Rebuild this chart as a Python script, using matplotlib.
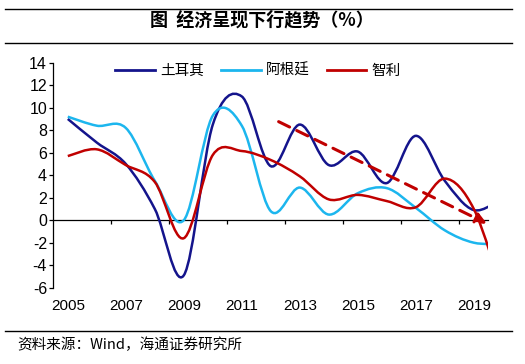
import matplotlib
matplotlib.use("Agg")
import matplotlib.pyplot as plt
from matplotlib.path import Path
from matplotlib.patches import PathPatch
from matplotlib.lines import Line2D
import numpy as np

plt.rcParams['font.family'] = ['Liberation Sans', 'Noto Sans CJK SC', 'DejaVu Sans']

# ---- data ----
years = [2005, 2006, 2007, 2008, 2009, 2010, 2011, 2012, 2013, 2014, 2015, 2016, 2017, 2018, 2019, 2020]
turkey = [9.0, 6.9, 5.0, 1.0, -4.9, 8.5, 11.0, 4.8, 8.5, 4.9, 6.1, 3.3, 7.5, 3.5, 0.9, 2.0]
argentina = [9.2, 8.4, 8.2, 3.5, 0.0, 9.3, 8.4, 0.8, 2.9, 0.5, 2.4, 2.85, 1.1, -0.9, -2.0, -2.1]
chile = [5.7, 6.3, 4.9, 3.4, -1.6, 5.8, 6.15, 5.35, 3.9, 1.85, 2.25, 1.7, 1.15, 3.7, 1.0, -6.5]
series_names = ['土耳其', '阿根廷', '智利']
series_colors = ['#14148C', '#1CB6EE', '#C00000']
label_years = [2005, 2007, 2009, 2011, 2013, 2015, 2017, 2019]
boundary_ticks = [2006.5, 2008.5, 2010.5, 2012.5, 2014.5, 2016.5, 2018.5]
y_ticks = [-6, -4, -2, 0, 2, 4, 6, 8, 10, 12, 14]
trend_start = (2012.27, 8.76)
trend_end = (2019.45, -0.3)
title = '图  经济呈现下行趋势（%）'
source = '资料来源：Wind，海通证券研究所'

W, H = 525, 364
fig = plt.figure(figsize=(W / 100, H / 100), dpi=100)
ax = fig.add_axes([53.3 / W, 76.3 / H, 435 / W, 225 / H])


def smooth_path(xs, ys):
    pts = np.column_stack([xs, ys]).astype(float)
    n = len(pts)
    verts = [pts[0]]
    codes = [Path.MOVETO]
    for i in range(n - 1):
        p0 = pts[i - 1] if i > 0 else pts[i]
        p1 = pts[i]
        p2 = pts[i + 1]
        p3 = pts[i + 2] if i + 2 < n else pts[i + 1]
        c1 = p1 + (p2 - p0) / 6.0
        c2 = p2 - (p3 - p1) / 6.0
        verts += [c1, c2, p2]
        codes += [Path.CURVE4] * 3
    return Path(verts, codes)


for vals, name, col in zip([turkey, argentina, chile], series_names, series_colors):
    patch = PathPatch(smooth_path(years, vals), facecolor='none', edgecolor=col, lw=1.8, zorder=3)
    ax.add_patch(patch)
    ax.plot([], [], color=col, lw=2.0, label=name)

ax.annotate('', xy=trend_end, xytext=trend_start,
            arrowprops=dict(arrowstyle='-|>', color='#C00000', lw=2.2,
                            linestyle=(0, (4, 2.6)), mutation_scale=16,
                            shrinkA=0, shrinkB=0), zorder=4)

ax.set_xlim(2004.5, 2019.5)
ax.set_ylim(-6, 14)

for s in ['top', 'right']:
    ax.spines[s].set_visible(False)
ax.spines['bottom'].set_position(('data', 0))
ax.spines['left'].set_linewidth(0.9)
ax.spines['bottom'].set_linewidth(0.9)
ax.set_xticks(boundary_ticks)
ax.tick_params(axis='x', direction='out', length=3, width=0.9, labelbottom=False)
ax.set_yticks(y_ticks)
ax.set_yticklabels([str(v) for v in y_ticks])
ax.tick_params(axis='y', direction='out', length=3, width=0.9, pad=1.5, labelsize=11.5)

sec = ax.secondary_xaxis('bottom')
sec.set_xticks(label_years)
sec.set_xticklabels([str(y) for y in label_years])
sec.tick_params(length=0, pad=8, labelsize=11)
sec.spines['bottom'].set_visible(False)

leg = ax.legend(loc='center', bbox_to_anchor=(258 / W, 1 - 70.7 / H),
                bbox_transform=fig.transFigure, ncol=3, frameon=False,
                prop={'family': ['Noto Sans CJK SC'], 'size': 10.5},
                handlelength=2.7, handletextpad=0.35, columnspacing=1.2)

# title and frame lines
for yy in [9.3, 42.7, 331]:
    fig.add_artist(Line2D([5 / W, 512 / W], [1 - yy / H, 1 - yy / H], color='black', lw=1.0))
fig.text(262 / W, 1 - 20 / H, title, ha='center', va='center', fontsize=13,
         fontweight='bold', family=['Noto Sans CJK SC'])
fig.text(17 / W, 1 - 345 / H, source, ha='left', va='center', fontsize=10.5,
         family=['Noto Sans CJK SC', 'DejaVu Sans'])

fig.savefig('out.png', dpi=100)
